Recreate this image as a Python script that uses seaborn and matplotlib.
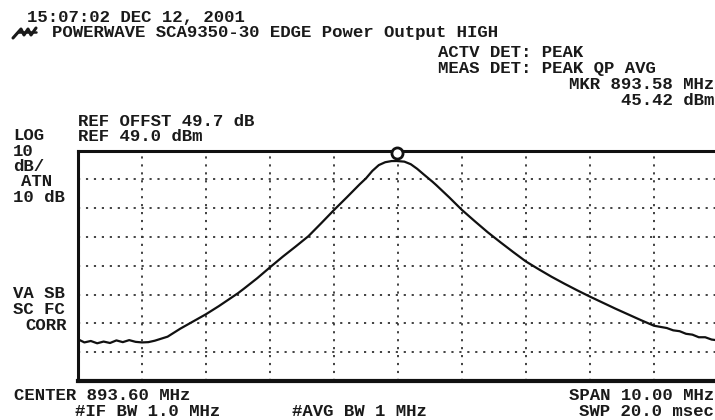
import numpy as np
import pandas as pd
import seaborn as sns
import matplotlib
matplotlib.use("Agg")
import matplotlib.pyplot as plt
from matplotlib.transforms import offset_copy
from matplotlib.lines import Line2D
from matplotlib.font_manager import FontProperties

# ---- data ----
freq_mhz = [888.60, 888.70, 888.80, 888.90, 889.00, 889.10, 889.20, 889.30, 889.40, 889.50,
            889.60, 889.70, 889.80, 889.90, 890.00, 890.20, 890.40, 890.60, 890.80, 891.00,
            891.10, 891.20, 891.40, 891.60, 891.80, 892.00, 892.20, 892.40, 892.60, 892.80,
            893.00, 893.10, 893.20, 893.30, 893.40, 893.50, 893.58, 893.70, 893.80, 893.90,
            894.00, 894.14, 894.20, 894.40, 894.60, 894.80, 895.00, 895.20, 895.40, 895.60,
            895.80, 896.00, 896.20, 896.40, 896.60, 896.80, 897.00, 897.20, 897.40, 897.60,
            897.80, 897.90, 898.00, 898.10, 898.20, 898.30, 898.40, 898.50, 898.60]
level_dbm = [-16.5, -17.6, -17.1, -17.9, -17.3, -17.8, -16.9, -17.5, -16.8, -17.4,
             -17.6, -17.5, -17.0, -16.3, -15.6, -12.8, -10.3, -7.8, -5.0, -2.0,
             -0.5, 1.2, 4.7, 8.5, 12.2, 15.7, 19.3, 23.8, 28.4, 32.8,
             37.3, 39.4, 42.0, 44.0, 45.0, 45.4, 45.42, 45.2, 44.3, 42.7,
             40.8, 38.2, 37.0, 32.8, 28.4, 24.5, 20.7, 17.2, 13.8, 10.5,
             7.8, 5.2, 2.8, 0.5, -1.7, -3.8, -5.9, -7.9, -9.9, -11.8,
             -12.6, -13.4, -13.7, -14.6, -14.9, -15.8, -15.8, -16.6, -16.9]
marker_freq = 893.58
marker_level = 45.42

center_mhz = 893.60
span_mhz = 10.0
ref_level = 49.0
db_per_div = 10.0
n_ydiv = 8

df = pd.DataFrame({"freq": freq_mhz, "level": level_dbm})

sns.set_style("white")
plt.rcParams["font.family"] = ["Liberation Mono", "DejaVu Sans Mono"]

W, H, DPI = 715, 420, 100
fig = plt.figure(figsize=(W / DPI, H / DPI), dpi=DPI)
fig.patch.set_facecolor("white")

# plot area in pixels: left 78, top 150.7, bottom 381, width 640 (right edge beyond image)
left_px, top_px, bot_px, width_px = 78, 150.7, 381, 640
ax = fig.add_axes([left_px / W, 1 - bot_px / H, width_px / W, (bot_px - top_px) / H])

sns.lineplot(data=df, x="freq", y="level", ax=ax, color="#111111", linewidth=1.6,
             estimator=None, sort=False)

ax.plot([marker_freq], [marker_level], marker="o", ms=8, mfc="white", mec="#111111", mew=2,
        linestyle="none", transform=offset_copy(ax.transData, fig=fig, x=0, y=8, units="dots"),
        clip_on=False, zorder=5)

x0 = center_mhz - span_mhz / 2
ax.set_xlim(x0, x0 + span_mhz)
ax.set_ylim(ref_level - n_ydiv * db_per_div, ref_level)
ax.set_xticks([x0 + k for k in range(11)])
ax.set_yticks([ref_level - k * db_per_div for k in range(n_ydiv + 1)])
ax.tick_params(length=0, labelbottom=False, labelleft=False)
ax.set_xlabel("")
ax.set_ylabel("")
ax.grid(True, color="#333333", linestyle=(0, (1.2, 3.2)), linewidth=1.3)
for side in ["left", "top"]:
    ax.spines[side].set_linewidth(2.2)
    ax.spines[side].set_color("#111111")
ax.spines["bottom"].set_linewidth(3.0)
ax.spines["bottom"].set_color("#111111")
ax.spines["right"].set_visible(False)

FS = 12.5
TC = "#1a1a1a"
fp = FontProperties(family=["Liberation Mono", "DejaVu Sans Mono"], weight="bold", size=FS)
renderer = fig.canvas.get_renderer()
_, cap_h, _ = renderer.get_text_width_height_descent("H", fp, ismath=False)


def t(x, yc, s, ha="left"):
    """yc = centre (px from top) of the capitals in the reference."""
    yb = yc + cap_h / 2
    fig.text(x / W, 1 - yb / H, s, fontproperties=fp, color=TC, va="baseline", ha=ha)


t(27, 16.5, "15:07:02 DEC 12, 2001")
t(52, 31.8, "POWERWAVE SCA9350-30 EDGE Power Output HIGH")
t(438, 51.7, "ACTV DET: PEAK")
t(438, 67.3, "MEAS DET: PEAK QP AVG")
t(714, 83.3, "MKR 893.58 MHz", ha="right")
t(714, 99.2, "45.42 dBm", ha="right")
t(78, 120.3, "REF OFFST 49.7 dB")
t(13, 134.8, "LOG")
t(78, 135.2, "REF 49.0 dBm")
t(13, 150.3, "10")
t(13, 165.6, "dB/")
t(21, 180.9, "ATN")
t(13, 196.3, "10 dB")
t(13, 293, "VA SB")
t(13, 308.5, "SC FC")
t(25, 325, "CORR")
t(14, 394.3, "CENTER 893.60 MHz")
t(714, 394.3, "SPAN 10.00 MHz", ha="right")
t(75, 410.5, "#IF BW 1.0 MHz")
t(292, 410.5, "#AVG BW 1 MHz")
t(714, 410.5, "SWP 20.0 msec", ha="right")

# small logo mark
def pl(xs, ys, lw=2.2):
    fig.add_artist(Line2D([x / W for x in xs], [1 - y / H for y in ys], color=TC, lw=lw,
                          solid_capstyle="round"))

pl([13, 21, 24, 28, 31, 36], [38, 29, 35, 29, 35, 28])
pl([18, 36], [31.5, 31.5], lw=1.8)

fig.savefig("out.png", dpi=DPI)
